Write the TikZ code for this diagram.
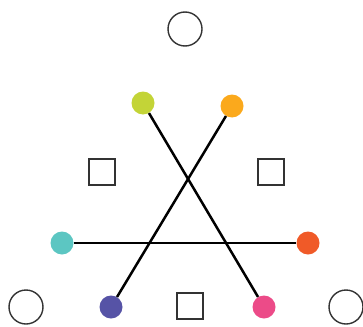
\documentclass[tikz,border=0pt]{standalone}
\definecolor{cgreen}{HTML}{C3D437}
\definecolor{corange}{HTML}{FBA91C}
\definecolor{ccyan}{HTML}{5CC6C2}
\definecolor{cred}{HTML}{F05A28}
\definecolor{cpurple}{HTML}{5653A6}
\definecolor{cpink}{HTML}{EC4B88}
\begin{document}
\begin{tikzpicture}[x=1pt,y=-1pt,
  dot/.style={circle,inner sep=0pt,minimum size=23pt,fill=#1},
  ring/.style={circle,draw=black!80,line width=1.4pt,inner sep=0pt,minimum size=34pt},
  sq/.style={rectangle,draw=black!80,line width=1.4pt,inner sep=0pt,minimum size=26pt},
  link/.style={line width=2.5pt,black}]
\useasboundingbox (0,0) rectangle (363,326);
\node[ring] (r1) at (185,29) {};
\node[ring] (r2) at (26,307) {};
\node[ring] (r3) at (346,307) {};
\node[sq] (s1) at (102,172) {};
\node[sq] (s2) at (271,172) {};
\node[sq] (s3) at (190,306) {};
\node[dot=cgreen] (g) at (143,103) {};
\node[dot=corange] (o) at (232,106) {};
\node[dot=ccyan] (c) at (62,243) {};
\node[dot=cred] (r) at (308,243) {};
\node[dot=cpurple] (p) at (111,307) {};
\node[dot=cpink] (k) at (264,307) {};
\draw[link] (g) -- (k);
\draw[link] (o) -- (p);
\draw[link] (c) -- (r);
\end{tikzpicture}
\end{document}
